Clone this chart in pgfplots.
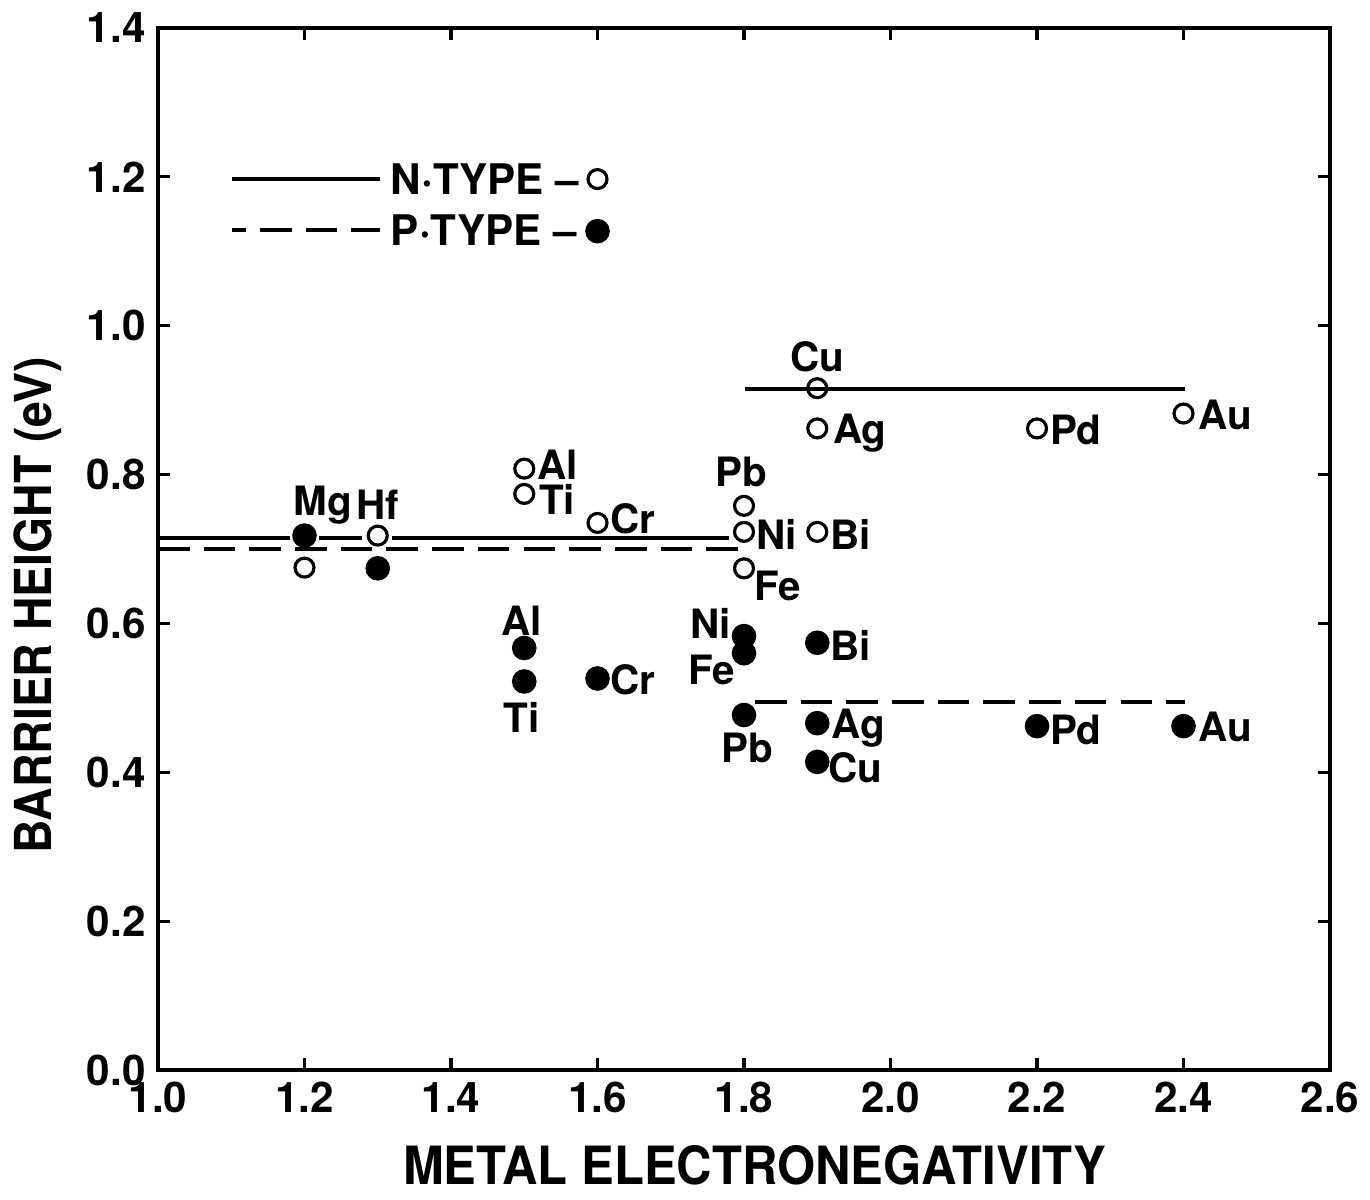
\documentclass[border=0pt]{standalone}
\usepackage{fontspec}
\setmainfont{TeX Gyre Heros}
\usepackage{pgfplots}
\pgfplotsset{compat=1.18}

\newcommand{\lbl}{\fontsize{11.5}{13}\selectfont\bfseries}

\begin{document}
\begin{tikzpicture}
\begin{axis}[
  scale only axis,
  width=11.72cm,
  height=10.42cm,
  xmin=1.0, xmax=2.6,
  ymin=0, ymax=1.4,
  xtick={1.0,1.2,...,2.6},
  ytick={0,0.2,...,1.4},
  xticklabel style={/pgf/number format/fixed,/pgf/number format/fixed zerofill,/pgf/number format/precision=1},
  yticklabel style={/pgf/number format/fixed,/pgf/number format/fixed zerofill,/pgf/number format/precision=1},
  /pgf/number format/assume math mode=true,
  tick label style={font=\fontsize{12}{14}\selectfont\bfseries},
  tick align=inside,
  major tick length=0.12cm,
  axis line style={line width=1.1pt},
  every tick/.style={line width=0.9pt, black},
  xlabel={\scalebox{0.93}[1]{\fontsize{15}{17}\selectfont\bfseries METAL ELECTRONEGATIVITY}},
  ylabel={\scalebox{0.91}[1]{\fontsize{14.5}{17}\selectfont\bfseries BARRIER HEIGHT (eV)}},
  xlabel style={anchor=center, at={(axis description cs:0.509,-0.091)}},
  ylabel style={anchor=center, at={(axis description cs:-0.103,0.446)}},
  dashed line/.style={line width=1.1pt, dash pattern=on 9pt off 4pt},
  solid line/.style={line width=1.1pt},
]
\coordinate (ll) at (axis cs:1,0);
\coordinate (ur) at (axis cs:2.6,1.4);

% reference lines
\addplot[solid line] coordinates {(1.0,0.715) (1.18,0.715)};
\addplot[solid line] coordinates {(1.22,0.715) (1.278,0.715)};
\addplot[solid line] coordinates {(1.32,0.715) (1.78,0.715)};
\addplot[dashed line] coordinates {(1.0,0.70) (1.804,0.70)};
\addplot[solid line] coordinates {(1.801,0.915) (2.402,0.915)};
\addplot[dashed line] coordinates {(1.815,0.495) (2.402,0.495)};

% legend lines
\addplot[solid line] coordinates {(1.101,1.197) (1.303,1.197)};
\addplot[dashed line, dash phase=5pt] coordinates {(1.101,1.128) (1.303,1.128)};

% N-type (open)
\addplot[only marks, mark=o, mark size=2.7pt, mark options={line width=0.9pt, fill=white}] coordinates {
  (1.2,0.675) (1.3,0.718) (1.5,0.808) (1.5,0.774) (1.6,0.735)
  (1.8,0.758) (1.8,0.723) (1.8,0.674) (1.9,0.723) (1.9,0.916)
  (1.9,0.862) (2.2,0.862) (2.4,0.882) (1.6,1.197)
};
% P-type (filled)
\addplot[only marks, mark=*, mark size=3.3pt] coordinates {
  (1.2,0.718) (1.3,0.674) (1.5,0.567) (1.5,0.522) (1.6,0.526)
  (1.8,0.583) (1.8,0.560) (1.9,0.574) (1.8,0.477) (1.9,0.466)
  (1.9,0.414) (2.2,0.462) (2.4,0.462) (1.6,1.127)
};

% legend text
\node[anchor=west, inner sep=0pt, font=\fontsize{12}{14}\selectfont\bfseries] at (axis cs:1.317,1.197) {N·TYPE –};
\node[anchor=west, inner sep=0pt, font=\fontsize{12}{14}\selectfont\bfseries] at (axis cs:1.317,1.128) {P·TYPE –};

% element labels, open
\node[font=\lbl] at (axis cs:1.225,0.759) {Mg};
\node[font=\lbl] at (axis cs:1.300,0.759) {Hf};
\node[font=\lbl] at (axis cs:1.546,0.813) {Al};
\node[font=\lbl] at (axis cs:1.545,0.766) {Ti};
\node[font=\lbl] at (axis cs:1.648,0.741) {Cr};
\node[font=\lbl] at (axis cs:1.797,0.803) {Pb};
\node[font=\lbl] at (axis cs:1.844,0.720) {Ni};
\node[font=\lbl] at (axis cs:1.846,0.650) {Fe};
\node[font=\lbl] at (axis cs:1.945,0.720) {Bi};
\node[font=\lbl] at (axis cs:1.900,0.958) {Cu};
\node[font=\lbl] at (axis cs:1.958,0.856) {Ag};
\node[font=\lbl] at (axis cs:2.253,0.860) {Pd};
\node[font=\lbl] at (axis cs:2.457,0.880) {Au};
% element labels, filled
\node[font=\lbl] at (axis cs:1.496,0.604) {Al};
\node[font=\lbl] at (axis cs:1.496,0.474) {Ti};
\node[font=\lbl] at (axis cs:1.648,0.524) {Cr};
\node[font=\lbl] at (axis cs:1.754,0.600) {Ni};
\node[font=\lbl] at (axis cs:1.756,0.537) {Fe};
\node[font=\lbl] at (axis cs:1.945,0.571) {Bi};
\node[font=\lbl] at (axis cs:1.805,0.433) {Pb};
\node[font=\lbl] at (axis cs:1.956,0.459) {Ag};
\node[font=\lbl] at (axis cs:1.952,0.406) {Cu};
\node[font=\lbl] at (axis cs:2.253,0.457) {Pd};
\node[font=\lbl] at (axis cs:2.457,0.461) {Au};
\end{axis}
\pgfresetboundingbox
\path ([shift={(-1.58cm,-1.29cm)}]ll) rectangle ([shift={(0.40cm,0.28cm)}]ur);
\end{tikzpicture}
\end{document}
